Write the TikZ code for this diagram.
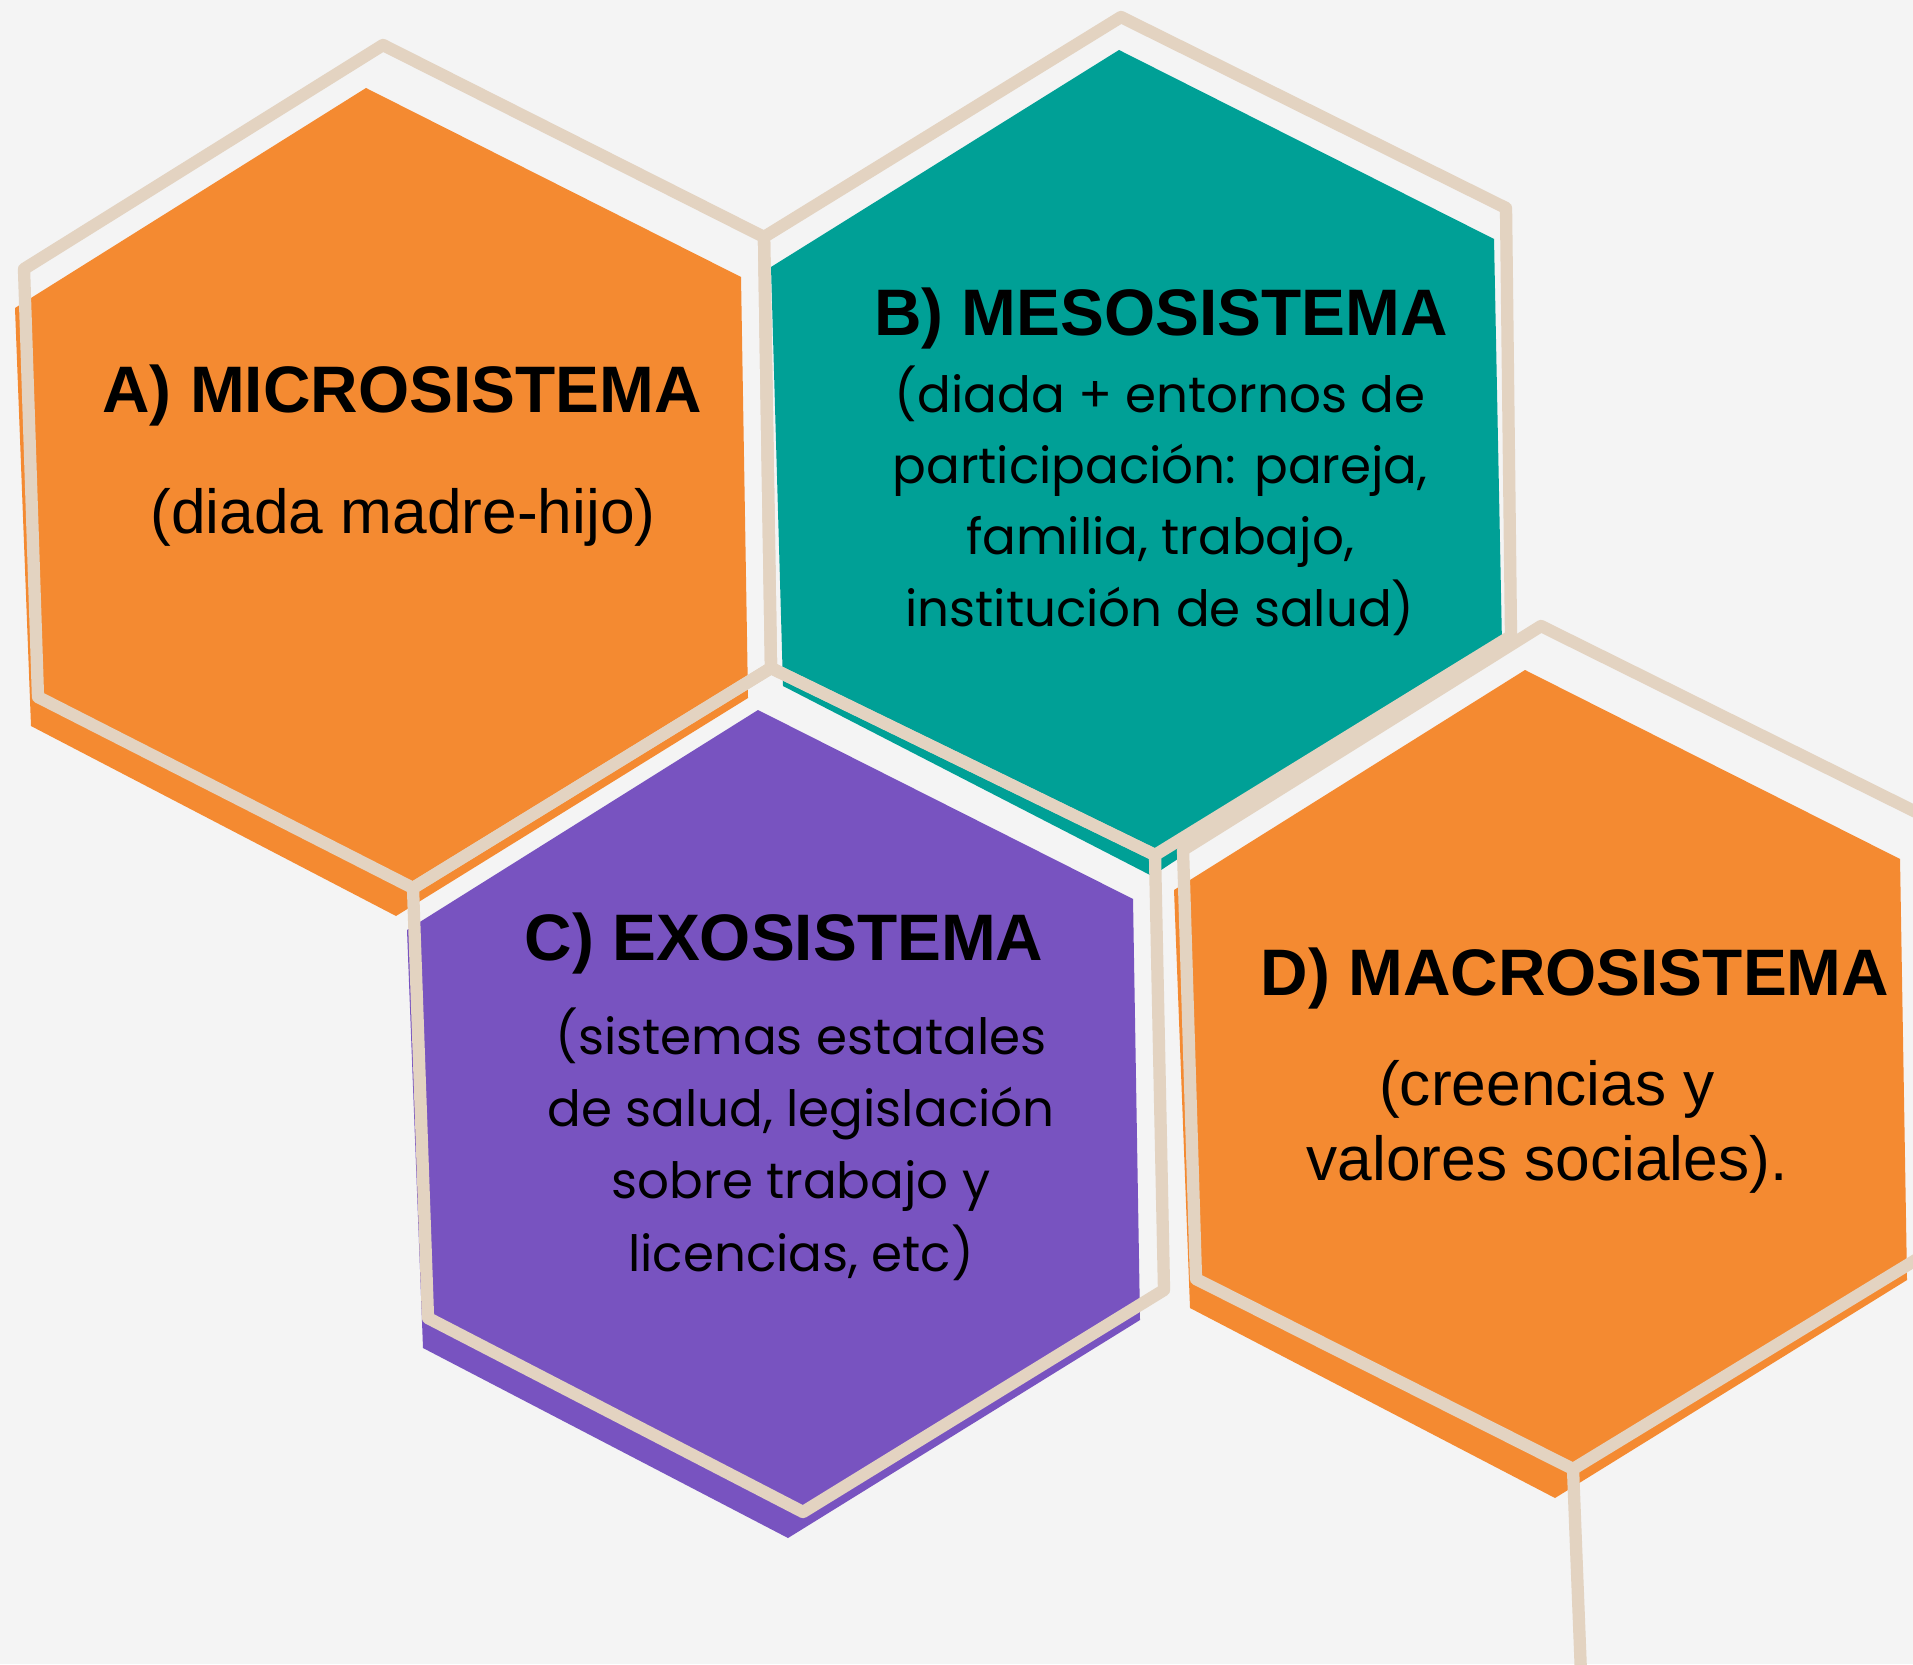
\documentclass[tikz,border=0pt]{standalone}
\usepackage{fontspec}
\setmainfont{Liberation Sans}
\newfontfamily\geofont{Poppins}
\usetikzlibrary{calc}
\usepackage{tkz-euclide}
\definecolor{BackClr}{HTML}{F4F4F4}
\definecolor{RimClr}{HTML}{E3D3C1}
\definecolor{MicroClr}{HTML}{F48A31}
\definecolor{MesoClr}{HTML}{00A096}
\definecolor{ExoClr}{HTML}{7853C0}
\definecolor{MacroClr}{HTML}{F48A31}

\begin{document}
\begin{tikzpicture}[x=0.01cm,y=-0.01cm,
  headtxt/.style={font=\bfseries\fontsize{18.7}{22}\selectfont,anchor=base,inner sep=0pt},
  bodytxt/.style={font=\fontsize{17.7}{21.3}\selectfont,anchor=base,align=center,inner sep=0pt},
  geotxt/.style={font=\geofont\fontsize{14.2}{20.2}\selectfont,anchor=base,align=center,inner sep=0pt}]
\tkzSetUpLine[line width=3.5pt,color=RimClr]

\fill[BackClr] (0,0) rectangle (1913,1664);
\useasboundingbox (0,0) rectangle (1913,1664);
\clip (0,0) rectangle (1913,1664);

% coloured cells
\tkzDefPoints{366/88/A1,741/277/A2,748/698/A3,396/916/A4,31/726/A5,15/308/A6}
\tkzDefPoints{1119/50/B1,1494/239/B2,1502/645/B3,1152/876/B4,783/686/B5,771/267/B6}
\tkzDefPoints{758/710/C1,1133/899/C2,1140/1320/C3,788/1538/C4,423/1348/C5,407/930/C6}
\tkzDefPoints{1525/670/D1,1900/859/D2,1907/1280/D3,1555/1498/D4,1190/1308/D5,1174/890/D6}

\tkzFillPolygon[fill=MicroClr](A1,A2,A3,A4,A5,A6)
\tkzFillPolygon[fill=MesoClr](B1,B2,B3,B4,B5,B6)
\tkzFillPolygon[fill=ExoClr](C1,C2,C3,C4,C5,C6)
\tkzFillPolygon[fill=MacroClr](D1,D2,D3,D4,D5,D6)

% honeycomb rims
\tkzDefPoints{383/45/rA1,764/237/rA2,771/668/rA3,413/888/rA4,38/697/rA5,24/269/rA6}
\tkzDefPoints{1121/17/rB1,1506/208/rB2,1511/636/rB3,1155/855/rB4}
\tkzDefPoints{1164/1290/rC3,803/1512/rC4,428/1318/rC5}
\tkzDefPoints{1541/626/rD1,1926/817/rD2,1932/1250/rD3,1573/1469/rD4,1196/1279/rD5,1183/850/rD6}
\tkzDefPoint(1582,1700){rE}

\tkzDrawPolygon(rA1,rA2,rA3,rA4,rA5,rA6)
\tkzDrawPolygon(rB1,rB2,rB3,rB4,rA3,rA2)
\tkzDrawPolygon(rA3,rB4,rC3,rC4,rC5,rA4)
\tkzDrawPolygon(rD1,rD2,rD3,rD4,rD5,rD6)
\tkzDrawSegment(rD4,rE)

% labels (multi-line: base = last line)
\node[headtxt] (hMicro) at (402,412) {A) MICROSISTEMA};
\node[bodytxt] (tMicro) at (403,533) {(diada madre-hijo)};
\node[headtxt] (hMeso) at (1161,336) {B) MESOSISTEMA};
\node[geotxt] (tMeso) at (1160,626) {(diada + entornos de\\participación: pareja,\\familia, trabajo,\\institución de salud)};
\node[headtxt] (hExo) at (784,960) {C) EXOSISTEMA};
\node[geotxt,font=\geofont\fontsize{14.2}{20.5}\selectfont] (tExo) at (801,1271) {(sistemas estatales\\de salud, legislación\\sobre trabajo y\\licencias, etc)};
\node[headtxt] (hMacro) at (1575,995) {D) MACROSISTEMA};
\node[bodytxt] (tMacro) at (1547,1180) {(creencias y\\valores sociales).};
\end{tikzpicture}
\end{document}
